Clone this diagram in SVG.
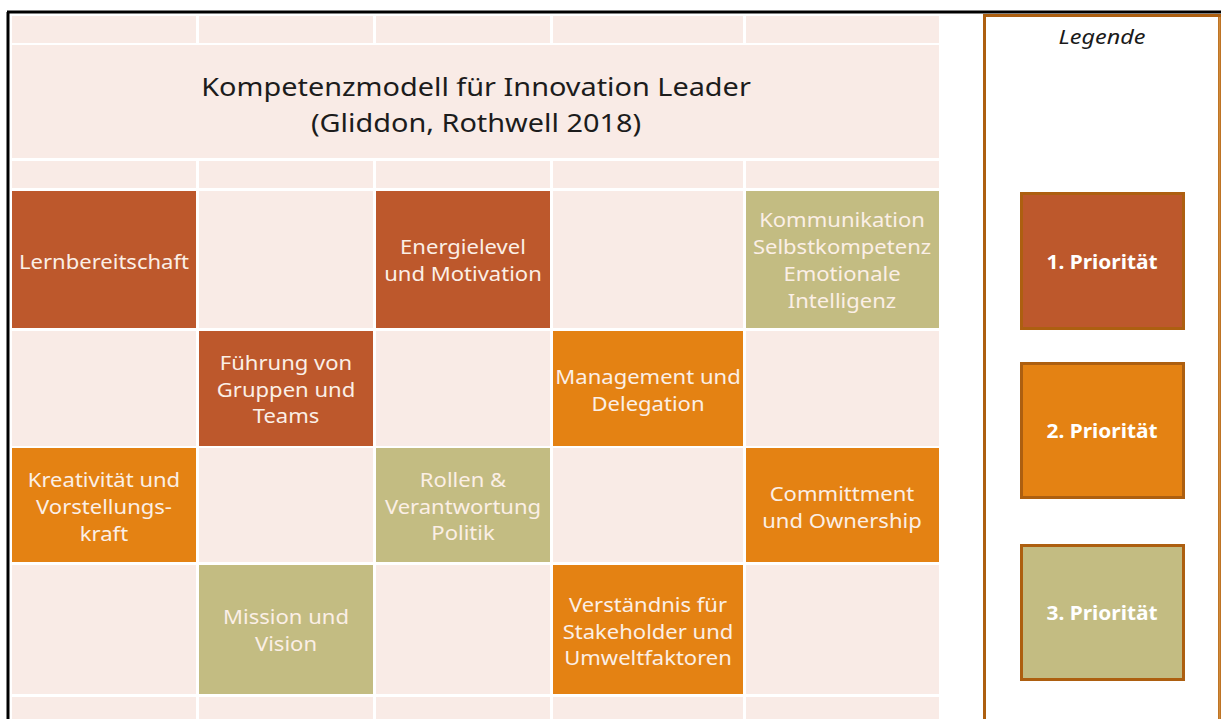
<svg xmlns="http://www.w3.org/2000/svg" width="1221" height="719" viewBox="0 0 1221 719">
<style>
.bg{fill:#f9ebe6}
.p1{fill:#bd582c}
.p2{fill:#e48213}
.p3{fill:#c3bc82}
.t{font-family:"Noto Sans","Open Sans",sans-serif;font-size:19px;fill:#fbefe6;text-anchor:middle}
.title{font-family:"Noto Sans","Open Sans",sans-serif;font-size:26px;fill:#1c1c1c;text-anchor:middle}
.leg{font-family:"Noto Sans","Open Sans",sans-serif;font-size:19px;font-weight:bold;fill:#ffffff;text-anchor:middle}
.lb{stroke:#ad5f10;stroke-width:3}
</style>
<rect x="0" y="0" width="1221" height="719" fill="#ffffff"/>
<line x1="8" y1="12" x2="8" y2="719" stroke="#000" stroke-width="3"/>
<line x1="7" y1="12" x2="1221" y2="12" stroke="#000" stroke-width="3"/>

<g id="grid">
<rect class="bg" x="12" y="16" width="184" height="27"/>
<rect class="bg" x="199" y="16" width="174" height="27"/>
<rect class="bg" x="376" y="16" width="174" height="27"/>
<rect class="bg" x="553" y="16" width="190" height="27"/>
<rect class="bg" x="746" y="16" width="193" height="27"/>
<rect class="bg" x="12" y="161" width="184" height="27"/>
<rect class="bg" x="199" y="161" width="174" height="27"/>
<rect class="bg" x="376" y="161" width="174" height="27"/>
<rect class="bg" x="553" y="161" width="190" height="27"/>
<rect class="bg" x="746" y="161" width="193" height="27"/>
<rect class="bg" x="199" y="191" width="174" height="137"/>
<rect class="bg" x="553" y="191" width="190" height="137"/>
<rect class="bg" x="12" y="331" width="184" height="115"/>
<rect class="bg" x="376" y="331" width="174" height="115"/>
<rect class="bg" x="746" y="331" width="193" height="115"/>
<rect class="bg" x="199" y="448" width="174" height="114"/>
<rect class="bg" x="553" y="448" width="190" height="114"/>
<rect class="bg" x="12" y="565" width="184" height="129"/>
<rect class="bg" x="376" y="565" width="174" height="129"/>
<rect class="bg" x="746" y="565" width="193" height="129"/>
<rect class="bg" x="12" y="697" width="184" height="22"/>
<rect class="bg" x="199" y="697" width="174" height="22"/>
<rect class="bg" x="376" y="697" width="174" height="22"/>
<rect class="bg" x="553" y="697" width="190" height="22"/>
<rect class="bg" x="746" y="697" width="193" height="22"/>
</g>

<g id="title">
<rect class="bg" x="12" y="45" width="927" height="113"/>
<g transform="translate(476 0) scale(1.11 1)">
<text class="title" x="0" y="96">Kompetenzmodell für Innovation Leader</text>
<text class="title" x="0" y="132">(Gliddon, Rothwell 2018)</text>
</g>
</g>

<g id="lernbereitschaft">
<rect class="p1" x="12" y="191" width="184" height="137"/>
<g transform="translate(104 0) scale(1.16 1)">
<text class="t" x="0" y="269">Lernbereitschaft</text>
</g>
</g>
<g id="energielevel">
<rect class="p1" x="376" y="191" width="174" height="137"/>
<g transform="translate(463 0) scale(1.16 1)">
<text class="t" x="0" y="254">Energielevel</text>
<text class="t" x="0" y="281">und Motivation</text>
</g>
</g>
<g id="kommunikation">
<rect class="p3" x="746" y="191" width="193" height="137"/>
<g transform="translate(842 0) scale(1.16 1)">
<text class="t" x="0" y="227">Kommunikation</text>
<text class="t" x="0" y="254">Selbstkompetenz</text>
<text class="t" x="0" y="281">Emotionale</text>
<text class="t" x="0" y="308">Intelligenz</text>
</g>
</g>
<g id="fuehrung">
<rect class="p1" x="199" y="331" width="174" height="115"/>
<g transform="translate(286 0) scale(1.16 1)">
<text class="t" x="0" y="370">Führung von</text>
<text class="t" x="0" y="397">Gruppen und</text>
<text class="t" x="0" y="423">Teams</text>
</g>
</g>
<g id="management">
<rect class="p2" x="553" y="331" width="190" height="115"/>
<g transform="translate(648 0) scale(1.16 1)">
<text class="t" x="0" y="384">Management und</text>
<text class="t" x="0" y="411">Delegation</text>
</g>
</g>
<g id="kreativitaet">
<rect class="p2" x="12" y="448" width="184" height="114"/>
<g transform="translate(104 0) scale(1.16 1)">
<text class="t" x="0" y="487">Kreativität und</text>
<text class="t" x="0" y="514">Vorstellungs-</text>
<text class="t" x="0" y="541">kraft</text>
</g>
</g>
<g id="rollen">
<rect class="p3" x="376" y="448" width="174" height="114"/>
<g transform="translate(463 0) scale(1.16 1)">
<text class="t" x="0" y="487">Rollen &amp;</text>
<text class="t" x="0" y="514">Verantwortung</text>
<text class="t" x="0" y="540">Politik</text>
</g>
</g>
<g id="committment">
<rect class="p2" x="746" y="448" width="193" height="114"/>
<g transform="translate(842 0) scale(1.16 1)">
<text class="t" x="0" y="501">Committment</text>
<text class="t" x="0" y="528">und Ownership</text>
</g>
</g>
<g id="mission">
<rect class="p3" x="199" y="565" width="174" height="129"/>
<g transform="translate(286 0) scale(1.16 1)">
<text class="t" x="0" y="624">Mission und</text>
<text class="t" x="0" y="651">Vision</text>
</g>
</g>
<g id="verstaendnis">
<rect class="p2" x="553" y="565" width="190" height="129"/>
<g transform="translate(648 0) scale(1.16 1)">
<text class="t" x="0" y="612">Verständnis für</text>
<text class="t" x="0" y="639">Stakeholder und</text>
<text class="t" x="0" y="665">Umweltfaktoren</text>
</g>
</g>

<g id="legende">
<rect x="984.5" y="15.5" width="235" height="710" fill="#ffffff" stroke="#ad5f10" stroke-width="3"/>
<line x1="1219.5" y1="17" x2="1219.5" y2="719" stroke="#d08a3a" stroke-width="2"/>
<g transform="translate(1102 0) scale(1.2 1)">
<text x="0" y="44" font-family="'Noto Sans','Open Sans',sans-serif" font-size="19.5" font-style="italic" fill="#1a1a1a" text-anchor="middle">Legende</text>
</g>
</g>
<g id="prio1">
<rect class="p1 lb" x="1021.5" y="193.5" width="162" height="135"/>
<g transform="translate(1102 0) scale(1.1 1)"><text class="leg" x="0" y="269">1. Priorität</text></g>
</g>
<g id="prio2">
<rect class="p2 lb" x="1021.5" y="363.5" width="162" height="134"/>
<g transform="translate(1102 0) scale(1.1 1)"><text class="leg" x="0" y="438">2. Priorität</text></g>
</g>
<g id="prio3">
<rect class="p3 lb" x="1021.5" y="545.5" width="162" height="134"/>
<g transform="translate(1102 0) scale(1.1 1)"><text class="leg" x="0" y="620">3. Priorität</text></g>
</g>
<g id="connectors"></g>
</svg>
